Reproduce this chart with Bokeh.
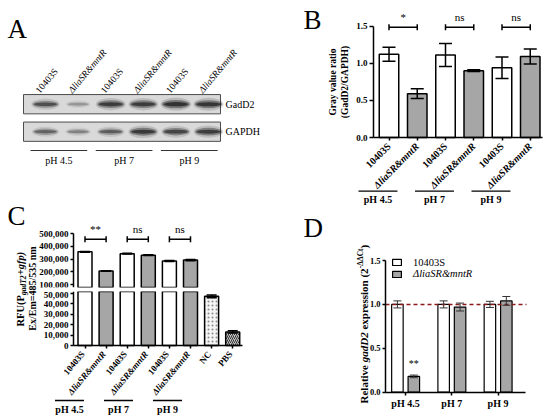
import math
from bokeh.plotting import figure
from bokeh.models import (Range1d, FixedTicker, NumeralTickFormatter, Whisker, TeeHead,
                          ColumnDataSource, Legend, LegendItem)
from bokeh.layouts import row, column
from bokeh.core.properties import value
from bokeh.embed import file_html
from bokeh.resources import INLINE

FONT = "Liberation Serif"
WHITE = "#ffffff"
GRAY = "#a6a6a6"

# ---------------- data ----------------
strains = ["10403S", "ΔliaSR&mntR"]
ph_labels = ["pH 4.5", "pH 7", "pH 9"]

# A: western blot, relative band darkness per lane
a_lanes = strains * 3
a_rows = ["GadD2", "GAPDH"]
a_gadd2 = [0.72, 0.30, 0.86, 0.86, 0.95, 0.92]
a_gapdh = [0.58, 0.40, 0.62, 0.88, 0.80, 0.85]

# B: gray value ratio
b_labels = strains * 3
b_vals = [1.12, 0.59, 1.11, 0.90, 0.94, 1.09]
b_errs = [0.095, 0.065, 0.155, 0.012, 0.145, 0.10]
b_sig = ["*", "ns", "ns"]
b_ticks = [0, 0.5, 1.0, 1.5]

# C: RFU
c_labels = strains * 3 + ["NC", "PBS"]
c_vals = [356000, 205000, 342000, 330000, 284000, 292000, 47000, 13000]
c_errs = [3000, 2000, 2500, 2500, 3500, 5000, 1300, 1000]
c_sig = ["**", "ns", "ns"]
c_ticks_top = [100000, 200000, 300000, 400000, 500000]
c_ticks_bot = [0, 10000, 20000, 30000, 40000, 50000]

# D: relative gadD2 expression
d_wt = [1.00, 1.00, 1.00]
d_wt_err = [0.04, 0.04, 0.035]
d_mut = [0.18, 0.97, 1.04]
d_mut_err = [0.015, 0.045, 0.05]
d_sig = ["**"]
d_ticks = [0, 0.5, 1.0, 1.5]


# ---------------- helpers ----------------
def mkfig(w, h, xr, yr, top=0, bottom=0, xaxis=None, yaxis=None):
    p = figure(width=w, height=h, x_range=xr, y_range=yr, toolbar_location=None, tools="",
               output_backend="svg", title=None, min_border_left=0, min_border_right=0,
               min_border_top=top, min_border_bottom=bottom,
               x_axis_location=xaxis, y_axis_location=yaxis)
    p.outline_line_color = None
    p.grid.visible = False
    p.background_fill_color = "white"
    p.border_fill_color = "white"
    return p


def txt(p, x, y, t, size, style="normal", angle=0.0, align="center", baseline="middle"):
    p.text(x=x, y=y, text=t, text_font=value(FONT), text_font_size=value(size),
           text_font_style=value(style), angle=angle, text_align=value(align),
           text_baseline=value(baseline), text_color=value("black"))


def style_axis(ax, size, tick_out=4, standoff=2):
    ax.axis_line_color = "black"
    ax.axis_line_width = 1.5
    ax.major_tick_line_color = "black"
    ax.major_tick_line_width = 1.5
    ax.major_tick_out = tick_out
    ax.major_tick_in = 0
    ax.minor_tick_line_color = None
    ax.major_label_text_font = FONT
    ax.major_label_text_font_size = size
    ax.major_label_text_font_style = "bold"
    ax.major_label_text_color = "black"
    ax.major_label_standoff = standoff
    ax.axis_label = None


def whisk(p, xs, vals, errs, size, lw=1.5, color="black"):
    src = ColumnDataSource(dict(x=xs, up=[v + e for v, e in zip(vals, errs)],
                                lo=[v - e for v, e in zip(vals, errs)]))
    w = Whisker(source=src, base="x", upper="up", lower="lo", line_color=color, line_width=lw,
                upper_head=TeeHead(size=size, line_width=lw, line_color=color),
                lower_head=TeeHead(size=size, line_width=lw, line_color=color), level="overlay")
    p.add_layout(w)


def bracket(p, y, n, size=6):
    src = ColumnDataSource(dict(y=[y] * n, x0=[2 * g for g in range(n)], x1=[2 * g + 1 for g in range(n)]))
    w = Whisker(source=src, base="y", lower="x0", upper="x1", dimension="width",
                line_color="black", line_width=1.5,
                upper_head=TeeHead(size=size, line_width=1.5, line_color="black"),
                lower_head=TeeHead(size=size, line_width=1.5, line_color="black"), level="overlay")
    p.add_layout(w)


def split_styles(labels):
    up = [i for i, t in enumerate(labels) if not t.startswith("Δ")]
    it = [i for i, t in enumerate(labels) if t.startswith("Δ")]
    return up, it


ng = len(ph_labels)

# ================= Panel A (western blot) =================  page x 0..290, y 0..195
def ax_(px): return (px - 45.0) / 32.6          # lane units
def ay_(py): return (103.7 - py) / 27.5         # row units (row r at -r)

pA = mkfig(290, 195, Range1d(ax_(0), ax_(290)), Range1d(ay_(195), ay_(0)))
lanes = list(range(len(a_lanes)))
rows_y = [-r for r in range(len(a_rows))]
sl, sr = ax_(23), ax_(220)
pA.rect(x=[(sl + sr) / 2] * len(a_rows), y=rows_y, width=sr - sl, height=19.3 / 27.5,
        fill_color="#d9d9d9", line_color="#4d4d4d", line_width=1)
for yr_, strengths in zip(rows_y, [a_gadd2, a_gapdh]):
    for wk, hk, ak in [(0.95, 1.9, 0.16), (0.86, 1.2, 0.42), (0.76, 0.6, 0.7)]:
        pA.ellipse(x=lanes, y=[yr_] * len(lanes),
                   width=[wk * (0.72 + 0.28 * s) for s in strengths],
                   height=[hk * (0.10 + 0.16 * s) for s in strengths],
                   fill_color="#111111", fill_alpha=[ak * s for s in strengths], line_color=None)
# lane labels, rotated 50 deg, centred on the middle of each label
ang_a = math.radians(50)
a_len = {"10403S": 29.0, "ΔliaSR&mntR": 54.0}   # approx. text length in px
up, it = split_styles(a_lanes)
for idx, st in ((up, "normal"), (it, "italic")):
    xs = [i + (-8 + 0.5 * a_len[a_lanes[i]] * math.cos(ang_a)) / 32.6 for i in idx]
    ys = [ay_(91.5 - 0.5 * a_len[a_lanes[i]] * math.sin(ang_a)) for i in idx]
    txt(pA, xs, ys, [a_lanes[i] for i in idx], "9.5px", st, ang_a, "center")
txt(pA, [ax_(225)] * len(a_rows), rows_y, a_rows, "10px", "normal", 0, "left")
pA.segment(x0=[2 * g - 0.46 for g in range(ng)], y0=[ay_(150)] * ng,
           x1=[2 * g + 1.28 for g in range(ng)], y1=[ay_(150)] * ng, line_color="#333333", line_width=1)
txt(pA, [2 * g + 0.41 for g in range(ng)], [ay_(160)] * ng, ph_labels, "10px")
txt(pA, [ax_(7)], [ay_(28.5)], ["A"], "27px", "normal", 0, "left", "middle")

# ================= Panel B =================  page x 290..548, y 0..205
def bx_(px): return (px - 388.5) / 28.25
def by_(py): return (137.0 - py) / 74.3

pB = mkfig(258, 205, Range1d(bx_(290), bx_(548)), Range1d(by_(205), by_(0)),
           xaxis="below", yaxis="left")
bx = list(range(len(b_vals)))
pB.vbar(x=bx, top=b_vals, width=19.5 / 28.25,
        fill_color=[WHITE if i % 2 == 0 else GRAY for i in bx], line_color="black", line_width=1.5)
whisk(pB, bx, b_vals, b_errs, 13)
bracket(pB, 1.485, len(b_sig))
txt(pB, [2 * g + 0.5 for g in range(len(b_sig))], [1.485 + 4 / 74.3] * len(b_sig), b_sig,
    "11px", "normal", 0, "center", "bottom")
yax = pB.yaxis[0]
style_axis(yax, "9px")
yax.fixed_location = bx_(373)
yax.ticker = FixedTicker(ticks=b_ticks, minor_ticks=[])
yax.formatter = NumeralTickFormatter(format="0.0")
yax.bounds = (0, 1.5)
yax.axis_label = "Gray value ratio\n(GadD2/GAPDH)"
yax.axis_label_text_font = FONT
yax.axis_label_text_font_size = "9.5px"
yax.axis_label_text_font_style = "bold"
yax.axis_label_text_color = "black"
yax.axis_label_standoff = 3
xax = pB.xaxis[0]
style_axis(xax, "0px", tick_out=3, standoff=0)
xax.fixed_location = 0
xax.bounds = (bx_(373), bx_(542))
xax.ticker = FixedTicker(ticks=bx, minor_ticks=[])
xax.major_label_overrides = {i: "" for i in bx}
up, it = split_styles(b_labels)
txt(pB, up, [by_(144)] * len(up), [b_labels[i] for i in up], "10px", "bold", math.pi / 4, "right")
txt(pB, it, [by_(144)] * len(it), [b_labels[i] for i in it], "10px", "bold italic", math.pi / 4, "right")
pB.segment(x0=[2 * g - 1.08 for g in range(ng)], y0=[by_(190.7)] * ng,
           x1=[2 * g + 0.30 for g in range(ng)], y1=[by_(190.7)] * ng, line_color="black", line_width=1.3)
txt(pB, [2 * g - 0.39 for g in range(ng)], [by_(198.5)] * ng, ph_labels, "10px", "bold")
txt(pB, [bx_(303)], [by_(19)], ["B"], "27px", "normal", 0, "left", "middle")

# ================= Panel C =================  page x 0..290, y 195..419
helpC = mkfig(38, 224, Range1d(0, 38), Range1d(0, 224))
def hcy(py): return 419 - py
txt(helpC, [7], [hcy(215)], ["C"], "27px", "normal", 0, "left", "middle")
txt(helpC, [32], [hcy(288)], ["Ex/Em=485/535 nm"], "10px", "bold", math.pi / 2, "center")
y1 = hcy(326)
txt(helpC, [20], [y1], ["RFU(P"], "10.5px", "bold", math.pi / 2, "left")
txt(helpC, [22.8], [y1 + 31.5], ["gadT2"], "7.5px", "bold italic", math.pi / 2, "left")
txt(helpC, [20], [y1 + 51.3], ["+gfp)"], "10.5px", "bold italic", math.pi / 2, "left")

def cx_(px): return (px - 84.5) / 21.1
def cty(py): return 100000 + (284.0 - py) / 12.75 * 100000
def cby(py): return (345.0 - py) / 52.3 * 50000

c_xr = Range1d(cx_(38), cx_(290))
cx = list(range(len(c_vals)))
c_fill = [WHITE, GRAY] * 3 + ["#f4f4f4", "#c4c4c4"]
c_hatch = [" "] * 6 + [".", "/"]
c_hcol = ["black"] * 6 + ["#8a8a8a", "#333333"]
n_top = 6   # bars that reach the upper segment
c_src_all = ColumnDataSource(dict(x=cx, top=c_vals, fill=c_fill, hatch=c_hatch, hcol=c_hcol))
c_src_top = ColumnDataSource(dict(x=cx[:n_top], top=c_vals[:n_top], fill=c_fill[:n_top]))

# upper segment: frame page y 195..287, 4px white gap below
cTop = mkfig(252, 96, c_xr, Range1d(cty(287), cty(195)), bottom=4, yaxis="left")
cTop.vbar(x="x", top="top", width=14 / 21.1, fill_color="fill", line_color="black", line_width=1.5,
          source=c_src_top)
# lower segment: frame page y 291..419
cBot = mkfig(252, 128, c_xr, Range1d(cby(419), cby(291)), xaxis="below", yaxis="left")
cBot.vbar(x="x", top="top", width=14 / 21.1, fill_color="fill", hatch_pattern="hatch",
          hatch_color="hcol", hatch_scale=4, hatch_weight=1, line_color="black", line_width=1.5,
          source=c_src_all)
whisk(cTop, cx[:n_top], c_vals[:n_top], c_errs[:n_top], 10)
whisk(cBot, cx[n_top:], c_vals[n_top:], c_errs[n_top:], 10)
bracket(cTop, 455000, len(c_sig))
txt(cTop, [2 * g + 0.5 for g in range(len(c_sig))], [455000 + 4 * 100000 / 12.75] * len(c_sig), c_sig,
    "11px", "normal", 0, "center", "bottom")
ya = cTop.yaxis[0]
style_axis(ya, "9px", tick_out=3)
ya.fixed_location = cx_(73)
ya.ticker = FixedTicker(ticks=c_ticks_top, minor_ticks=[])
ya.formatter = NumeralTickFormatter(format="0,0")
ya.bounds = (cty(287), 500000)
ya = cBot.yaxis[0]
style_axis(ya, "9px", tick_out=3)
ya.fixed_location = cx_(73)
ya.ticker = FixedTicker(ticks=c_ticks_bot, minor_ticks=[])
ya.formatter = NumeralTickFormatter(format="0,0")
ya.bounds = (0, cby(291))
xa = cBot.xaxis[0]
style_axis(xa, "0px", tick_out=3, standoff=0)
xa.fixed_location = 0
xa.bounds = (cx_(73), cx_(242))
xa.ticker = FixedTicker(ticks=cx, minor_ticks=[])
xa.major_label_overrides = {i: "" for i in cx}
up, it = split_styles(c_labels)
ang_c = math.radians(50)
txt(cBot, [i - 0.1 for i in up], [cby(352)] * len(up), [c_labels[i] for i in up], "9px", "bold", ang_c, "right")
txt(cBot, [i - 0.1 for i in it], [cby(352)] * len(it), [c_labels[i] for i in it], "9px", "bold italic", ang_c, "right")
c_gc = [cx_(69) + g * 49 / 21.1 for g in range(ng)]
c_hw = 14.5 / 21.1
cBot.segment(x0=[c - c_hw for c in c_gc], y0=[cby(400)] * ng,
             x1=[c + c_hw for c in c_gc], y1=[cby(400)] * ng, line_color="black", line_width=1.3)
txt(cBot, c_gc, [cby(409)] * ng, ph_labels, "10px", "bold")

# ================= Panel D =================  page x 290..548, y 205..419
def dx_(px): return (px - 405.0) / 46.25
def dy_(py): return (391.7 - py) / 87.8

pD = mkfig(258, 214, Range1d(dx_(290), dx_(548)), Range1d(dy_(419), dy_(205)),
           xaxis="below", yaxis="left")
gx = list(range(len(d_wt)))
xw = [g - 0.175 for g in gx]
xm = [g + 0.18 for g in gx]
r_wt = pD.vbar(x=xw, top=d_wt, width=11.5 / 46.25, fill_color=WHITE, line_color="black", line_width=1.2)
r_mut = pD.vbar(x=xm, top=d_mut, width=11.5 / 46.25, fill_color=GRAY, line_color="black", line_width=1.2)
whisk(pD, xw, d_wt, d_wt_err, 8, lw=1, color="#333333")
whisk(pD, xm, d_mut, d_mut_err, 8, lw=1, color="#333333")
pD.segment(x0=[dx_(385)], y0=[1.0], x1=[dx_(526)], y1=[1.0], line_color="#8b1a1a",
           line_width=1.5, line_dash="4 3")
txt(pD, xm[:len(d_sig)], [d_mut[0] + d_mut_err[0] + 6 / 87.8], d_sig, "10px", "normal", 0, "center", "bottom")
ya = pD.yaxis[0]
style_axis(ya, "8.5px", tick_out=3)
ya.fixed_location = dx_(385)
ya.ticker = FixedTicker(ticks=d_ticks, minor_ticks=[])
ya.formatter = NumeralTickFormatter(format="0.0")
ya.bounds = (0, 1.5)
xa = pD.xaxis[0]
style_axis(xa, "10px", tick_out=3, standoff=3)
xa.fixed_location = 0
xa.bounds = (dx_(385), dx_(525))
xa.ticker = FixedTicker(ticks=gx, minor_ticks=[])
xa.major_label_overrides = {g: ph_labels[g] for g in gx}
for lbl, rr, st, ybot in [(strains[0], r_wt, "normal", 267.5), (strains[1], r_mut, "italic", 279)]:
    lg = Legend(items=[LegendItem(label=lbl, renderers=[rr])], location=(391 - 290, 419 - ybot))
    lg.label_text_font = FONT
    lg.label_text_font_size = "10.5px"
    lg.label_text_font_style = st
    lg.label_text_color = "black"
    lg.glyph_width = 11
    lg.glyph_height = 8
    lg.label_height = 10
    lg.label_standoff = 11
    lg.padding = 0
    lg.margin = 0
    lg.spacing = 0
    lg.border_line_color = None
    lg.background_fill_alpha = 0
    pD.add_layout(lg)
# y-axis title pieces (mixed styles), reading upward
ylab = [("Relative", "bold", "11px", 0.0, 41.2), ("gadD2", "bold italic", "11px", 0.0, 32.7),
        ("expression (2", "bold", "11px", 0.0, 61.4), ("-ΔΔCt", "bold", "7.5px", -3.5, 19.6),
        (")", "bold", "11px", 0.0, 4.0)]
ypx = 403.0
for t, st, sz, dxp, wdt in ylab:
    txt(pD, [dx_(363 + dxp)], [dy_(ypx)], [t], sz, st, math.pi / 2, "left")
    ypx -= wdt
txt(pD, [dx_(303)], [dy_(227.5)], ["D"], "27px", "normal", 0, "left", "middle")

# ================= layout =================
left = column(pA, row(helpC, column(cTop, cBot)))
right = column(pB, pD)
lay = row(left, right)
open("out.html", "w").write(file_html(lay, INLINE, "chart"))
